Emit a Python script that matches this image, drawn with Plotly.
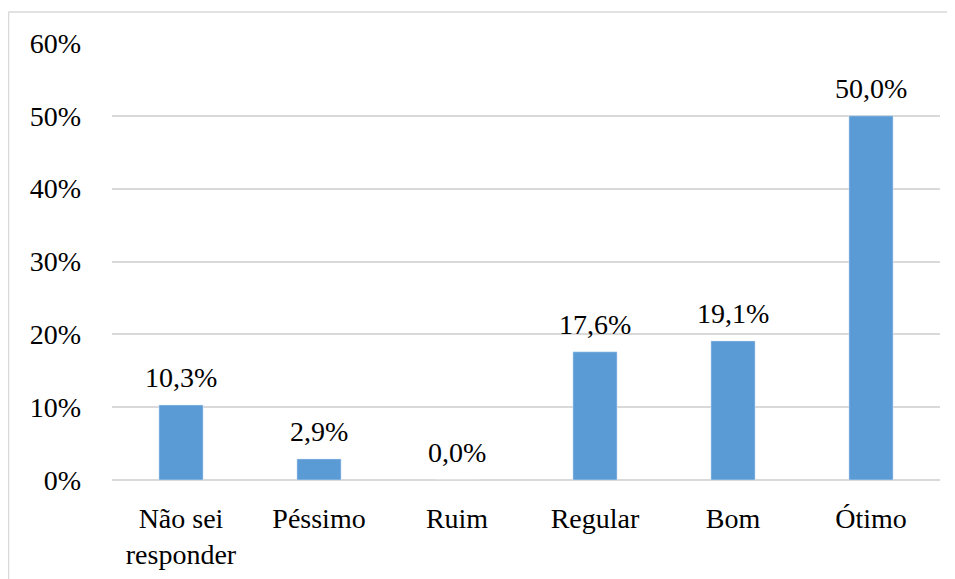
import plotly.graph_objects as go

categories = ["Não sei<br>responder", "Péssimo", "Ruim", "Regular", "Bom", "Ótimo"]
values = [10.3, 2.9, 0.0, 17.6, 19.1, 50.0]
labels = ["10,3%", "2,9%", "0,0%", "17,6%", "19,1%", "50,0%"]
ytick_vals = [0, 10, 20, 30, 40, 50, 60]
ytick_text = ["0%", "10%", "20%", "30%", "40%", "50%", "60%"]

# page body has an 8px margin, so the figure is placed at (8, 8)
W, H = 947, 571
ML, MR, MT, MB = 104, 15, 35, 99
FONT = "Liberation Serif, Times New Roman, serif"

fig = go.Figure()
fig.add_trace(go.Bar(x=categories, y=values, marker_color="#5B9BD5",
                     width=0.32, hoverinfo="skip"))

for c, v, t in zip(categories, values, labels):
    fig.add_annotation(x=c, y=v, text=t, showarrow=False, yanchor="bottom",
                       yshift=10, font=dict(family=FONT, size=28, color="#000"))

pw = W - ML - MR
ph = H - MT - MB
top_y = (H - 4 - MB) / ph
left_x = (0.5 - ML) / pw
fig.add_shape(type="line", xref="paper", yref="paper",
              x0=left_x, x1=(W + 5 - ML) / pw, y0=top_y, y1=top_y,
              line=dict(color="#D9D9D9", width=1.5))
fig.add_shape(type="line", xref="paper", yref="paper",
              x0=left_x, x1=left_x, y0=top_y, y1=-(MB + 5) / ph,
              line=dict(color="#D9D9D9", width=1.5))

fig.update_layout(
    width=W, height=H,
    margin=dict(l=ML, r=MR, t=MT, b=MB),
    paper_bgcolor="white", plot_bgcolor="white",
    showlegend=False, bargap=0.68,
    font=dict(family=FONT, size=28, color="#000"),
    xaxis=dict(showgrid=False, showline=False, ticks="", ticklabelstandoff=19,
               automargin=False,
               tickfont=dict(family=FONT, size=28, color="#000")),
    yaxis=dict(range=[0, 60], tickvals=ytick_vals, ticktext=ytick_text,
               showgrid=True, gridcolor="#D9D9D9", gridwidth=1.5,
               zeroline=True, zerolinecolor="#D9D9D9", zerolinewidth=1.5,
               showline=False, ticks="", ticklabelstandoff=30,
               automargin=False,
               tickfont=dict(family=FONT, size=28, color="#000")),
)

fig.write_html("out.html")
